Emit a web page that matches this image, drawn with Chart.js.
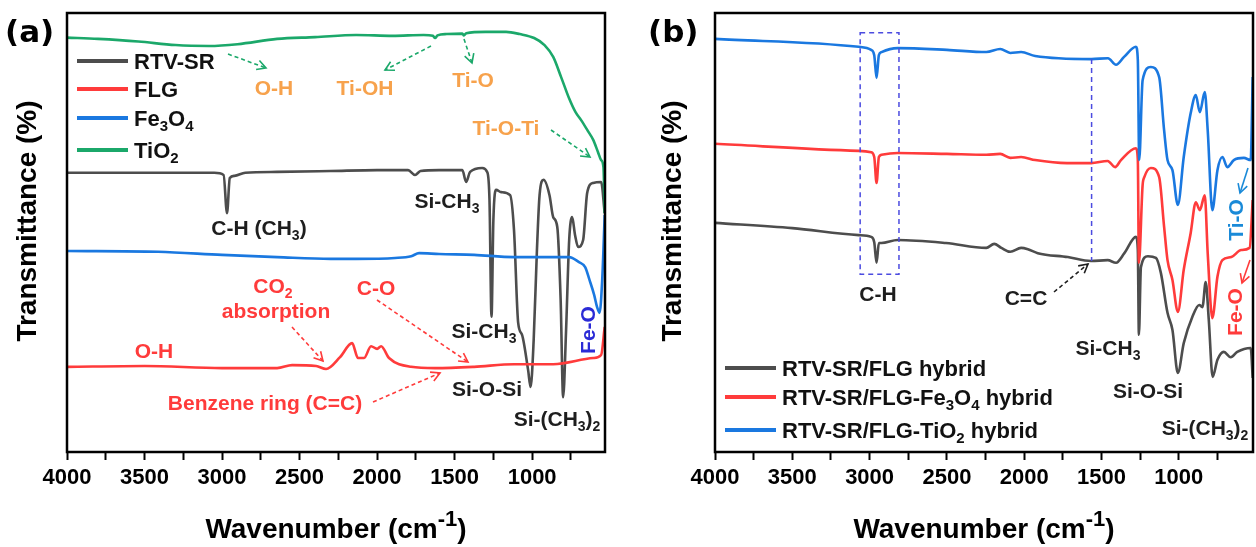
<!DOCTYPE html>
<html>
<head>
<meta charset="utf-8">
<script src="https://cdn.jsdelivr.net/npm/chart.js@4.4.0/dist/chart.umd.min.js"></script>
<style>
  html, body { margin: 0; padding: 0; background: #fff; }
  #wrap { position: relative; width: 1256px; height: 547px; overflow: hidden; background: #fff; }
  #chartA { position: absolute; left: 0; top: 0; }
  #chartB { position: absolute; left: 620px; top: 0; }
</style>
</head>
<body>
<div id="wrap">
  <canvas id="chartA" width="620" height="547"></canvas>
  <canvas id="chartB" width="636" height="547"></canvas>
</div>
<script>
(function () {
    'use strict';

    // ---- data: wavenumber (cm-1) and transmittance (offset, a.u.) ----
    // panel (a)
    const wnTiO2 = [4000, 3800, 3540, 3300, 3084, 2900, 2645, 2400, 2135, 1900, 1700, 1640, 1626, 1610, 1550, 1450, 1440, 1425, 1300, 1168, 1080, 987, 920, 864, 813, 761, 720, 684, 640, 606, 575, 555, 540, 532];
    const tTiO2 = [94.4, 94.1, 93.5, 92.7, 92.5, 92.9, 94.1, 94.5, 95.0, 94.8, 95.0, 94.8, 94.3, 94.9, 95.2, 95.3, 94.9, 95.4, 95.7, 95.7, 95.2, 94.3, 92.7, 90.0, 85.4, 80.5, 77.4, 75.6, 73.1, 71.1, 68.3, 66.5, 64.9, 54.4];

    const wnRTV = [4000, 3500, 3050, 2990, 2968, 2950, 2920, 2850, 2645, 2300, 2000, 1800, 1755, 1720, 1600, 1450, 1426, 1400, 1322, 1290, 1275, 1262, 1250, 1232, 1200, 1142, 1117, 1090, 1065, 1026, 1010, 990, 969, 952, 926, 888, 864, 838, 816, 800, 781, 761, 742, 723, 703, 671, 645, 606, 555, 532];
    const tRTV = [63.6, 63.6, 63.6, 63.1, 54.4, 62.4, 62.9, 63.6, 63.8, 64.0, 64.2, 64.2, 63.1, 64.0, 64.2, 64.2, 61.5, 63.8, 64.7, 63.8, 57.4, 30.8, 52.8, 59.7, 59.2, 58.5, 50.6, 29.4, 26.7, 18.7, 14.8, 25.5, 46.0, 58.5, 62.0, 58.5, 53.5, 51.3, 34.6, 12.5, 27.8, 48.3, 53.5, 49.4, 46.7, 48.3, 59.0, 61.3, 61.5, 54.4];

    const wnFe3O4 = [4000, 3413, 3000, 2645, 2300, 2135, 1884, 1780, 1729, 1600, 1374, 1116, 900, 761, 700, 658, 630, 600, 581, 565, 548, 532];
    const tFe3O4 = [45.8, 45.6, 44.9, 44.4, 44.0, 44.0, 44.2, 44.6, 45.3, 45.1, 44.9, 44.4, 44.4, 44.4, 43.3, 42.1, 39.2, 35.8, 33.0, 31.7, 39.2, 54.0];

    const wnFLG = [4000, 3500, 3000, 2645, 2548, 2393, 2329, 2239, 2161, 2123, 2084, 2039, 2000, 1974, 1923, 1781, 1626, 1374, 1116, 864, 606, 555, 532];
    const tFLG = [19.4, 19.6, 19.1, 19.1, 19.8, 19.6, 18.9, 21.6, 24.8, 21.4, 21.4, 24.1, 23.5, 24.1, 21.4, 19.4, 19.1, 19.4, 20.0, 20.0, 21.4, 22.1, 28.5];

    // panel (b)
    const wnHybTiO2 = [4000, 3071, 2990, 2970, 2955, 2940, 2923, 2819, 2500, 2245, 2155, 2090, 2020, 1929, 1564, 1458, 1406, 1354, 1277, 1265, 1256, 1234, 1181, 1127, 1095, 1073, 1041, 1006, 968, 923, 890, 864, 832, 813, 783, 750, 718, 686, 644, 579, 535, 522];
    const tHybTiO2 = [94.1, 92.3, 91.6, 90.4, 85.2, 90.4, 91.1, 92.0, 91.6, 91.1, 91.8, 90.9, 91.1, 90.2, 89.5, 89.7, 88.2, 90.0, 92.3, 89.3, 66.5, 84.7, 87.7, 85.4, 73.3, 66.5, 64.2, 56.3, 67.2, 77.2, 81.3, 77.4, 82.0, 73.3, 55.1, 64.2, 67.2, 64.9, 66.5, 67.0, 66.5, 85.4];

    const wnHybFe = [4000, 3071, 2990, 2970, 2955, 2940, 2923, 2819, 2500, 2245, 2155, 2090, 2020, 1929, 1723, 1567, 1460, 1412, 1374, 1277, 1265, 1258, 1234, 1223, 1181, 1127, 1095, 1073, 1041, 1006, 968, 923, 890, 864, 832, 813, 783, 750, 718, 660, 596, 542, 522];
    const tHybFe = [70.2, 68.6, 68.3, 67.2, 61.3, 67.2, 67.7, 68.1, 67.9, 67.7, 67.9, 67.0, 67.2, 66.5, 65.8, 65.8, 66.3, 64.9, 66.5, 69.2, 66.5, 43.1, 60.8, 62.6, 64.7, 62.6, 51.3, 43.7, 39.2, 31.9, 41.5, 49.9, 56.9, 55.1, 58.5, 45.3, 30.5, 39.9, 43.7, 44.4, 46.0, 46.5, 57.4];

    const wnHybFLG = [4000, 3500, 3071, 2990, 2970, 2955, 2940, 2923, 2819, 2506, 2245, 2194, 2148, 2090, 2020, 1976, 1912, 1718, 1568, 1460, 1406, 1352, 1277, 1265, 1258, 1245, 1200, 1148, 1116, 1073, 1041, 1006, 968, 912, 868, 847, 826, 806, 781, 750, 709, 664, 622, 535, 522];
    const tHybFLG = [52.2, 51.0, 49.4, 49.0, 47.8, 43.1, 47.6, 47.6, 48.3, 47.6, 46.5, 47.4, 46.5, 45.6, 46.5, 46.2, 45.3, 44.4, 43.5, 43.7, 43.1, 45.3, 49.0, 46.0, 26.7, 42.1, 44.6, 44.2, 40.8, 31.7, 27.8, 18.0, 24.8, 30.8, 33.5, 33.0, 38.7, 30.1, 17.1, 21.0, 22.8, 21.6, 22.8, 23.7, 16.9];

    const tickValues = [4000, 3750, 3500, 3250, 3000, 2750, 2500, 2250, 2000, 1750, 1500, 1250, 1000, 750];

    const GRAY = '#4d4d4d';
    const RED = '#ff3b3b';
    const BLUE = '#1a78e0';
    const GREEN = '#1ba86a';
    const ORANGE = '#f7a24c';
    const DARK = '#1e1e1e';
    const FONT = "'Liberation Sans', Arial, sans-serif";

    Chart.defaults.font.family = FONT;
    Chart.defaults.color = '#000';

    function toPoints(wn, t) {
        return wn.map(function (w, i) { return { x: w, y: t[i] }; });
    }

    function richParts(str) {
        const parts = [];
        let buf = '';
        let i = 0;
        while (i < str.length) {
            const c = str[i];
            if ((c === '_' || c === '^') && i + 1 < str.length) {
                if (buf) { parts.push({ t: buf, k: 0 }); buf = ''; }
                let t;
                if (str[i + 1] === '{') {
                    const j = str.indexOf('}', i);
                    t = str.slice(i + 2, j);
                    i = j + 1;
                } else {
                    t = str[i + 1];
                    i += 2;
                }
                parts.push({ t: t, k: c === '_' ? -1 : 1 });
            } else {
                buf += c;
                i++;
            }
        }
        if (buf) parts.push({ t: buf, k: 0 });
        return parts;
    }

    // y is the text's visual centre line
    function drawRich(ctx, str, x, y, size, color, align, scriptScale) {
        const parts = richParts(str);
        const sc = scriptScale || 0.68;
        const fontFor = function (k) {
            return 'bold ' + (k ? Math.round(size * sc) : size) + 'px ' + FONT;
        };
        let total = 0;
        parts.forEach(function (p) {
            ctx.font = fontFor(p.k);
            p.w = ctx.measureText(p.t).width;
            total += p.w;
        });
        let cx = align === 'center' ? x - total / 2 : (align === 'right' ? x - total : x);
        const base = y + size * 0.36;
        ctx.fillStyle = color;
        ctx.textAlign = 'left';
        ctx.textBaseline = 'alphabetic';
        parts.forEach(function (p) {
            ctx.font = fontFor(p.k);
            const dy = p.k < 0 ? size * 0.24 : (p.k > 0 ? -size * 0.42 : 0);
            ctx.fillText(p.t, cx, base + dy);
            cx += p.w;
        });
    }

    function arrow(ctx, x1, y1, x2, y2, color, dashed) {
        ctx.save();
        ctx.strokeStyle = color;
        ctx.lineWidth = 1.6;
        ctx.setLineDash(dashed ? [4, 3] : []);
        ctx.beginPath();
        ctx.moveTo(x1, y1);
        ctx.lineTo(x2, y2);
        ctx.stroke();
        ctx.setLineDash([]);
        const a = Math.atan2(y2 - y1, x2 - x1);
        const h = 10;
        ctx.beginPath();
        ctx.moveTo(x2 - h * Math.cos(a - 0.5), y2 - h * Math.sin(a - 0.5));
        ctx.lineTo(x2, y2);
        ctx.lineTo(x2 - h * Math.cos(a + 0.5), y2 - h * Math.sin(a + 0.5));
        ctx.stroke();
        ctx.restore();
    }

    // annotation layout (page pixels)
    const notesA = [
        ['O-H', 274, 87, ORANGE], ['Ti-OH', 365, 87, ORANGE], ['Ti-O', 473, 79, ORANGE], ['Ti-O-Ti', 506, 127, ORANGE],
        ['C-H (CH_3)', 259, 227, DARK], ['Si-CH_3', 447, 200, DARK], ['Si-CH_3', 484, 330, DARK],
        ['Si-O-Si', 487, 388, DARK], ['Si-(CH_3)_2', 557, 418, DARK],
        ['CO_2', 273, 285, RED], ['absorption', 276, 310, RED], ['C-O', 376, 287, RED],
        ['O-H', 154, 350, RED], ['Benzene ring (C=C)', 265, 402, RED],
        ['Fe-O', 587, 330, '#2b2bd6', true]
    ];
    const arrowsA = [
        [228, 54, 266, 68, GREEN, true], [431, 46, 385, 70, GREEN, true], [464, 39, 472, 63, GREEN, true],
        [551, 130, 590, 157, GREEN, true], [292, 327, 323, 361, RED, true], [377, 300, 468, 362, RED, true],
        [373, 402, 440, 373, RED, true]
    ];
    const notesB = [
        ['C-H', 878, 293, DARK], ['C=C', 1026, 297, DARK], ['Si-CH_3', 1108, 347, DARK],
        ['Si-O-Si', 1148, 390, DARK], ['Si-(CH_3)_2', 1205, 427, DARK],
        ['Ti-O', 1235, 220, '#1a8ad8', true], ['Fe-O', 1234, 312, RED, true]
    ];
    const arrowsB = [
        [1054, 292, 1088, 264, DARK, true], [1248, 168, 1240, 193, '#1a8ad8', false], [1250, 260, 1242, 283, RED, false]
    ];

    const legendA = [['RTV-SR', GRAY, 61], ['FLG', RED, 89], ['Fe_3O_4', BLUE, 118], ['TiO_2', GREEN, 150]];
    const legendB = [['RTV-SR/FLG hybrid', GRAY, 368], ['RTV-SR/FLG-Fe_3O_4 hybrid', RED, 397], ['RTV-SR/FLG-TiO_2 hybrid', BLUE, 430]];

    function decorPlugin(cfg) {
        return {
            id: 'decor',
            afterDraw: function (chart) {
                const ctx = chart.ctx;
                const area = chart.chartArea;
                const ox = cfg.offsetX;
                ctx.save();

                // dashed marker box (panel b)
                if (cfg.box) {
                    const xs = chart.scales.x, ys = chart.scales.y;
                    ctx.strokeStyle = '#4b4be0';
                    ctx.lineWidth = 1.5;
                    ctx.setLineDash([5, 4]);
                    const x1 = xs.getPixelForValue(cfg.box[0]), x2 = xs.getPixelForValue(cfg.box[1]);
                    const y1 = ys.getPixelForValue(cfg.box[2]), y2 = ys.getPixelForValue(cfg.box[3]);
                    ctx.strokeRect(x1, y1, x2 - x1, y2 - y1);
                    const xl = xs.getPixelForValue(cfg.vline[0]);
                    ctx.beginPath();
                    ctx.moveTo(xl, ys.getPixelForValue(cfg.vline[1]));
                    ctx.lineTo(xl, ys.getPixelForValue(cfg.vline[2]));
                    ctx.stroke();
                    ctx.setLineDash([]);
                }

                // frame
                ctx.strokeStyle = '#000';
                ctx.lineWidth = 2.5;
                ctx.strokeRect(area.left, area.top, area.right - area.left, area.bottom - area.top);

                // legend
                cfg.legend.forEach(function (it) {
                    ctx.strokeStyle = it[1];
                    ctx.lineWidth = 4;
                    ctx.beginPath();
                    ctx.moveTo(cfg.legendX[0] - ox, it[2]);
                    ctx.lineTo(cfg.legendX[1] - ox, it[2]);
                    ctx.stroke();
                    drawRich(ctx, it[0], cfg.legendX[2] - ox, it[2], 22, '#111', 'left');
                });

                // annotations
                cfg.notes.forEach(function (n) {
                    if (n[4]) {
                        ctx.save();
                        ctx.translate(n[1] - ox, n[2]);
                        ctx.rotate(-Math.PI / 2);
                        drawRich(ctx, n[0], 0, 0, 21, n[3], 'center');
                        ctx.restore();
                    } else {
                        drawRich(ctx, n[0], n[1] - ox, n[2], 21, n[3], 'center');
                    }
                });
                cfg.arrows.forEach(function (a) {
                    arrow(ctx, a[0] - ox, a[1], a[2] - ox, a[3], a[4], a[5]);
                });

                // panel letter, axis titles
                ctx.font = 'bold 31px "DejaVu Sans", sans-serif';
                ctx.fillStyle = '#000';
                ctx.textAlign = 'left';
                ctx.textBaseline = 'alphabetic';
                ctx.fillText(cfg.letter, cfg.letterX - ox, 42);
                drawRich(ctx, 'Wavenumber (cm^{-1})', (area.left + area.right) / 2, 528, 28, '#000', 'center', 0.8);

                ctx.save();
                ctx.translate(cfg.yTitleX - ox, 221);
                ctx.rotate(-Math.PI / 2);
                drawRich(ctx, 'Transmittance (%)', 0, 0, 28, '#000', 'center');
                ctx.restore();

                ctx.restore();
            }
        };
    }

    function makeChart(id, datasets, opts) {
        const canvas = document.getElementById(id);
        return new Chart(canvas, {
            type: 'line',
            data: { datasets: datasets },
            options: {
                responsive: false,
                animation: false,
                events: [],
                layout: { padding: { top: 13, right: opts.padRight, left: 0, bottom: 0 } },
                elements: { point: { radius: 0 }, line: { borderWidth: 2.6, cubicInterpolationMode: 'monotone' } },
                plugins: { legend: { display: false }, tooltip: { enabled: false } },
                scales: {
                    x: {
                        type: 'linear',
                        reverse: true,
                        min: opts.xMin,
                        max: 4000,
                        afterBuildTicks: function (scale) {
                            scale.ticks = tickValues.map(function (v) { return { value: v }; });
                        },
                        afterFit: function (scale) { scale.height = 95; },
                        border: { display: false },
                        grid: { drawOnChartArea: false, drawTicks: true, tickLength: 8, tickWidth: 2, tickColor: '#000', color: '#000' },
                        ticks: {
                            autoSkip: false,
                            maxRotation: 0,
                            minRotation: 0,
                            padding: 5,
                            color: '#000',
                            font: { size: 22, weight: 'bold' },
                            callback: function (v) { return v % 500 === 0 ? String(v) : ''; }
                        }
                    },
                    y: {
                        min: 0,
                        max: 100,
                        afterFit: function (scale) { scale.width = opts.yWidth; },
                        border: { display: false },
                        grid: { display: false, drawTicks: false },
                        ticks: { display: false },
                        title: { display: false }
                    }
                }
            },
            plugins: [decorPlugin(opts.decor)]
        });
    }

    function ds(wn, t, color) {
        return { data: toPoints(wn, t), borderColor: color, backgroundColor: color, fill: false };
    }

    makeChart('chartA', [
        ds(wnTiO2, tTiO2, GREEN),
        ds(wnFe3O4, tFe3O4, BLUE),
        ds(wnFLG, tFLG, RED),
        ds(wnRTV, tRTV, GRAY)
    ], {
        xMin: 530, padRight: 15, yWidth: 67,
        decor: { offsetX: 0, legend: legendA, legendX: [77, 128, 134], notes: notesA, arrows: arrowsA, letter: '(a)', letterX: 5, yTitleX: 26 }
    });

    makeChart('chartB', [
        ds(wnHybTiO2, tHybTiO2, BLUE),
        ds(wnHybFe, tHybFe, RED),
        ds(wnHybFLG, tHybFLG, GRAY)
    ], {
        xMin: 520, padRight: 3, yWidth: 95,
        decor: {
            offsetX: 620, legend: legendB, legendX: [725, 776, 782], notes: notesB, arrows: arrowsB,
            letter: '(b)', letterX: 648, yTitleX: 671, box: [3061, 2810, 95.5, 40.5], vline: [1564, 89.5, 43.5]
        }
    });
})();
</script>
</body>
</html>
